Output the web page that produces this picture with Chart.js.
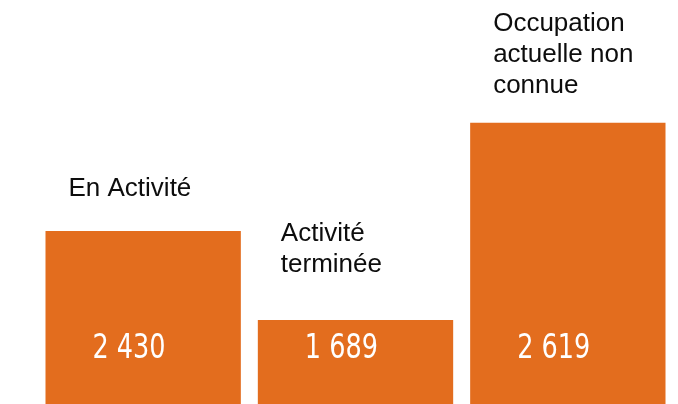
<!DOCTYPE html>
<html>
<head>
<meta charset="utf-8">
<script src="https://cdn.jsdelivr.net/npm/chart.js@4"></script>
<style>
  html, body { margin: 0; padding: 0; background: #fff; }
  #wrap { width: 678px; height: 404px; }
</style>
</head>
<body>
<div id="wrap"><canvas id="c" width="678" height="404"></canvas></div>
<script>
// Categories (each as lines of text, as shown above the bars)
const categories = [
  ['En Activité'],
  ['Activité', 'terminée'],
  ['Occupation', 'actuelle non', 'connue']
];
// Visible bar heights (relative, % of plot height)
const barHeights = [42.8, 20.8, 69.6];
// Value labels printed inside the bars
const valueLabels = ['2 430', '1 689', '2 619'];

// Label placement (gap between last text baseline and bar top), per bar
const labelGaps = [35, 48, 30];

const labelPlugin = {
  id: 'barLabels',
  afterDatasetsDraw(chart) {
    const ctx = chart.ctx;
    const meta = chart.getDatasetMeta(0);
    const area = chart.chartArea;
    meta.data.forEach((bar, i) => {
      const left = bar.x - bar.width / 2;
      // category label above bar
      ctx.save();
      ctx.fillStyle = '#0d0d0d';
      ctx.font = '26px "Liberation Sans", Arial, sans-serif';
      ctx.textAlign = 'left';
      ctx.textBaseline = 'alphabetic';
      const lines = categories[i];
      const lh = 31;
      const lastBase = bar.y - labelGaps[i];
      lines.forEach((ln, k) => {
        const y = lastBase - (lines.length - 1 - k) * lh;
        ctx.fillText(ln, left + 23, y);
      });
      // value label inside bar (narrow, condensed digits)
      ctx.fillStyle = '#ffffff';
      ctx.font = '33px "DejaVu Sans Condensed", sans-serif';
      ctx.translate(left + 47, area.bottom - 46);
      ctx.scale(0.86, 1);
      ctx.fillText(valueLabels[i], 0, 0);
      ctx.restore();
    });
  }
};

new Chart(document.getElementById('c'), {
  type: 'bar',
  data: {
    labels: categories.map(c => c.join(' ')),
    datasets: [{
      data: barHeights,
      backgroundColor: '#E36D1E',
      borderWidth: 0,
      barPercentage: 0.92,
      categoryPercentage: 1.0
    }]
  },
  options: {
    responsive: false,
    animation: false,
    layout: { padding: { left: 37, right: 4, top: 0, bottom: 0 } },
    plugins: { legend: { display: false }, tooltip: { enabled: false } },
    scales: {
      x: { display: false },
      y: { display: false, min: 0, max: 100 }
    }
  },
  plugins: [labelPlugin]
});
</script>
</body>
</html>
